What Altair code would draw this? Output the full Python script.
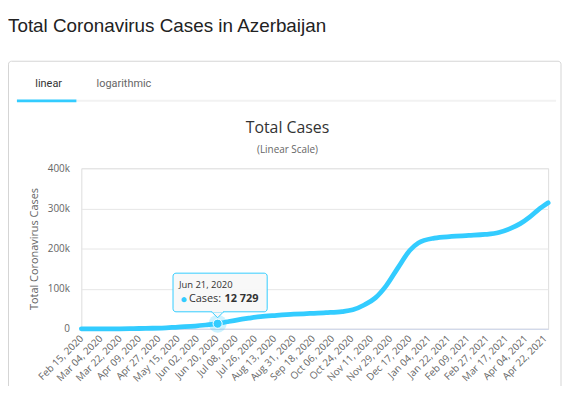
import altair as alt
import pandas as pd

# ---- data ----
dates = ["2020-02-15", "2020-02-28", "2020-03-15", "2020-03-31", "2020-04-15", "2020-04-30",
         "2020-05-15", "2020-05-31", "2020-06-10", "2020-06-21", "2020-06-30", "2020-07-10",
         "2020-07-20", "2020-07-31", "2020-08-15", "2020-08-31", "2020-09-15", "2020-09-30",
         "2020-10-15", "2020-10-25", "2020-11-05", "2020-11-15", "2020-11-25", "2020-12-06",
         "2020-12-17", "2020-12-25", "2021-01-09", "2021-01-25", "2021-02-10", "2021-02-25",
         "2021-03-10", "2021-03-20", "2021-03-30", "2021-04-08", "2021-04-16", "2021-04-25"]
cases = [0, 1, 23, 273, 1197, 1804,
         4500, 7000, 9500, 12729, 17524, 22500,
         26500, 30500, 33500, 36300, 38172, 40200,
         43000, 47500, 60000, 77000, 107000, 152000,
         195000, 214000, 226000, 230000, 232500, 235000,
         240000, 249000, 262000, 279000, 297000, 314000]

tick_dates = ["2020-02-15", "2020-03-04", "2020-03-22", "2020-04-09", "2020-04-27", "2020-05-15",
              "2020-06-02", "2020-06-20", "2020-07-08", "2020-07-26", "2020-08-13", "2020-08-31",
              "2020-09-18", "2020-10-06", "2020-10-24", "2020-11-11", "2020-11-29", "2020-12-17",
              "2021-01-04", "2021-01-22", "2021-02-09", "2021-02-27", "2021-03-17", "2021-04-04",
              "2021-04-22"]
y_ticks = [0, 100000, 200000, 300000, 400000]
domain_start = "2020-02-15"
domain_end = "2021-04-25"

hover_date = "2020-06-21"
hover_label = "Jun 21, 2020"

page_title = "Total Coronavirus Cases in Azerbaijan"
chart_title = "Total Cases"
chart_subtitle = "(Linear Scale)"
y_title = "Total Coronavirus Cases"
tabs = ["linear", "logarithmic"]

LINE = "#33ccff"


def dt(s):
    y, m, d = (int(p) for p in s.split("-"))
    return alt.DateTime(year=y, month=m, date=d, utc=True)


df = pd.DataFrame({"date": dates, "cases": cases})
hv_cases = cases[dates.index(hover_date)]
hover = pd.DataFrame({"date": [hover_date], "cases": [hv_cases],
                      "dlabel": [hover_label],
                      "clabel": ["{:,}".format(hv_cases).replace(",", " ")]})

W, H = 471, 162
FONT = "Open Sans"

x_axis = alt.Axis(values=[dt(t) for t in tick_dates], format="%b %d, %Y",
                  labelAngle=315, labelAlign="right", labelBaseline="middle",
                  labelPadding=8, labelOverlap=False, labelFlush=False, labelBound=False,
                  labelColor="#666666", labelFontSize=10, labelFont=FONT,
                  grid=False, ticks=False, domainColor="#ccd6eb", title=None)
x_scale = alt.Scale(type="utc", domain=[dt(domain_start), dt(domain_end)])
y_axis = alt.Axis(values=y_ticks,
                  labelExpr="datum.value == 0 ? '0' : (datum.value / 1000) + 'k'",
                  labelColor="#666666", labelFontSize=10, labelFont=FONT,
                  labelPadding=12, grid=True, gridColor="#e6e6e6",
                  domain=False, ticks=False,
                  title=y_title, titleFont=FONT, titleFontSize=11,
                  titleFontWeight="normal", titleColor="#666666",
                  titleX=-47, titleY=H / 2, titleAngle=270,
                  titleAlign="center", titleBaseline="middle")
y_scale = alt.Scale(domain=[0, 400000], nice=False)


def xe():
    return alt.X("date:T", scale=x_scale, axis=x_axis)


def ye():
    return alt.Y("cases:Q", scale=y_scale, axis=y_axis)


def x2e():
    return alt.X2("date:T")


def y2e():
    return alt.Y2("cases:Q")


one = alt.Data(values=[{}])

box = alt.Chart(one).mark_rect(fill="transparent", stroke="#d4d4d4", strokeWidth=1,
                               cornerRadius=3).encode(
    x=alt.value(-73.5), x2=alt.value(484), y=alt.value(-108), y2=alt.value(260))

title = alt.Chart(one).mark_text(align="left", baseline="alphabetic", font="Liberation Sans",
                                 fontSize=19, color="#222222").encode(
    x=alt.value(-74), y=alt.value(-137), text=alt.value(page_title))

tab_line = alt.Chart(one).mark_rule(color="#f2f2f2", strokeWidth=2).encode(
    x=alt.value(-65), x2=alt.value(479), y=alt.value(-68))
tab_active = alt.Chart(one).mark_rule(color=LINE, strokeWidth=3).encode(
    x=alt.value(-65), x2=alt.value(-5), y=alt.value(-68))
tab1 = alt.Chart(one).mark_text(align="center", baseline="middle", font="Roboto",
                                fontSize=11, color="#333333").encode(
    x=alt.value(-33), y=alt.value(-85), text=alt.value(tabs[0]))
tab2 = alt.Chart(one).mark_text(align="center", baseline="middle", font="Roboto",
                                fontSize=11, color="#666666").encode(
    x=alt.value(43), y=alt.value(-85), text=alt.value(tabs[1]))

ctitle = alt.Chart(one).mark_text(align="center", baseline="middle", font=FONT,
                                  fontSize=16, color="#333333").encode(
    x=alt.value(208), y=alt.value(-41), text=alt.value(chart_title))
csub = alt.Chart(one).mark_text(align="center", baseline="middle", font=FONT,
                                fontSize=10, color="#666666").encode(
    x=alt.value(208), y=alt.value(-18), text=alt.value(chart_subtitle))

line = alt.Chart(df).mark_line(color=LINE, strokeWidth=4.8, interpolate="monotone",
                               strokeCap="round").encode(x=xe(), y=ye())

hb = alt.Chart(hover)
halo = hb.mark_circle(size=330, color=LINE, opacity=0.25).encode(x=xe(), y=ye())
marker = hb.mark_circle(size=85, color=LINE, opacity=1, stroke="white",
                        strokeWidth=1).encode(x=xe(), y=ye())

tip_box = hb.mark_rect(xOffset=-45, x2Offset=50, yOffset=-51, y2Offset=-12,
                       fill="#f7f7f7", fillOpacity=0.92, stroke=LINE, strokeWidth=1,
                       cornerRadius=3).encode(x=xe(), x2=x2e(), y=ye(), y2=y2e())
tip_ptr = hb.mark_point(shape="M -1 -1 L 1 -1 L 0 0 Z", size=144, filled=True,
                        fill="#f7f7f7", fillOpacity=1, stroke=LINE, strokeWidth=1,
                        yOffset=-6).encode(x=xe(), y=ye())
tip_cover = hb.mark_rect(xOffset=-5.5, x2Offset=5.5, yOffset=-13, y2Offset=-11.5,
                         fill="#f7f7f7").encode(x=xe(), x2=x2e(), y=ye(), y2=y2e())
tip_date = hb.mark_text(align="left", baseline="middle", dx=-39, dy=-39, font=FONT,
                        fontSize=9.5, color="#333333").encode(text="dlabel:N", x=xe(), y=ye())
tip_dot = hb.mark_text(align="center", baseline="middle", dx=-34, dy=-25, fontSize=12,
                       color=LINE).encode(text=alt.value("●"), x=xe(), y=ye())
tip_lab = hb.mark_text(align="left", baseline="middle", dx=-29, dy=-25, font=FONT,
                       fontSize=11, color="#333333").encode(text=alt.value("Cases:"), x=xe(), y=ye())
tip_val = hb.mark_text(align="left", baseline="middle", dx=7, dy=-25, font=FONT,
                       fontSize=11, fontWeight="bold", color="#333333").encode(
    text="clabel:N", x=xe(), y=ye())

chart = alt.layer(
    box, title, tab_line, tab_active, tab1, tab2, ctitle, csub,
    line, halo, marker, tip_ptr, tip_box, tip_cover, tip_date, tip_dot, tip_lab, tip_val
).properties(
    width=W, height=H,
    autosize=alt.AutoSizeParams(type="none"),
    padding={"left": 74, "top": 160, "right": 16, "bottom": 56},
).configure_view(stroke=None).configure(background="white")

chart.save("out.html", embed_options={"renderer": "svg", "actions": False})
